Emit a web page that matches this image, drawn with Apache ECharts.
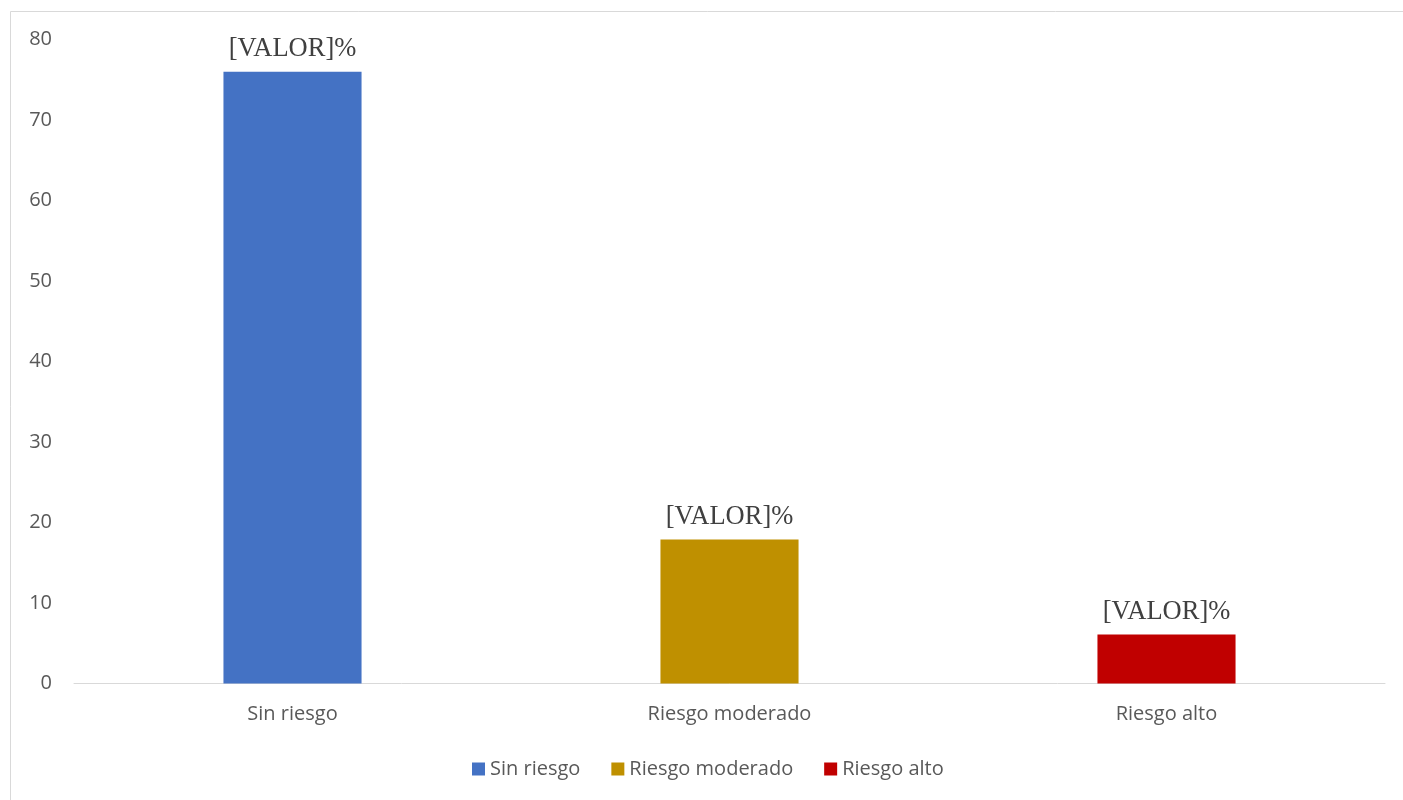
<!DOCTYPE html>
<html>
<head>
<meta charset="utf-8">
<script src="https://cdn.jsdelivr.net/npm/echarts@6/dist/echarts.min.js"></script>
<style>
html,body{margin:0;padding:0;background:#fff;}
#chart{width:1403px;height:800px;}
</style>
</head>
<body>
<div id="chart"></div>
<script>
const categories = ['Sin riesgo', 'Riesgo moderado', 'Riesgo alto'];
const seriesNames = ['Sin riesgo', 'Riesgo moderado', 'Riesgo alto'];
const values = [76.0, 17.9, 6.1];
const colors = ['#4472C4', '#BF9000', '#C00000'];
const labelText = '[VALOR]%';

const chart = echarts.init(document.getElementById('chart'));
const series = seriesNames.map((name, i) => ({
  name: name,
  type: 'bar',
  stack: 'all',
  barWidth: '31.6%',
  itemStyle: { color: colors[i] },
  data: categories.map((c, j) => (j === i ? values[i] : '-')),
  label: {
    show: true,
    position: 'top',
    distance: 9,
    formatter: () => labelText,
    fontFamily: 'Liberation Serif',
    fontSize: 26.5,
    color: '#404040'
  }
}));

chart.setOption({
  animation: false,
  backgroundColor: '#fff',
  graphic: [{
    type: 'rect',
    shape: { x: 10.5, y: 11.5, width: 1500, height: 900 },
    style: { fill: 'none', stroke: '#d9d9d9', lineWidth: 1 },
    silent: true
  }],
  grid: { left: 74, right: 18, top: 39.5, bottom: 116.5, containLabel: false },
  legend: {
    bottom: 21,
    left: 472,
    padding: 0,
    itemWidth: 13,
    itemHeight: 13,
    itemGap: 31,
    icon: 'rect',
    textStyle: { fontFamily: 'Open Sans', fontSize: 20, color: '#595959' },
    data: seriesNames
  },
  xAxis: {
    type: 'category',
    data: categories,
    axisLine: { lineStyle: { color: '#d9d9d9', width: 1 } },
    axisTick: { show: false },
    axisLabel: { fontFamily: 'Open Sans', fontSize: 20, color: '#595959', margin: 21 }
  },
  yAxis: {
    type: 'value',
    min: 0,
    max: 80,
    interval: 10,
    splitLine: { show: false },
    axisLine: { show: false },
    axisTick: { show: false },
    axisLabel: { fontFamily: 'Open Sans', fontSize: 20, color: '#595959', margin: 22 }
  },
  series: series
});
</script>
</body>
</html>
